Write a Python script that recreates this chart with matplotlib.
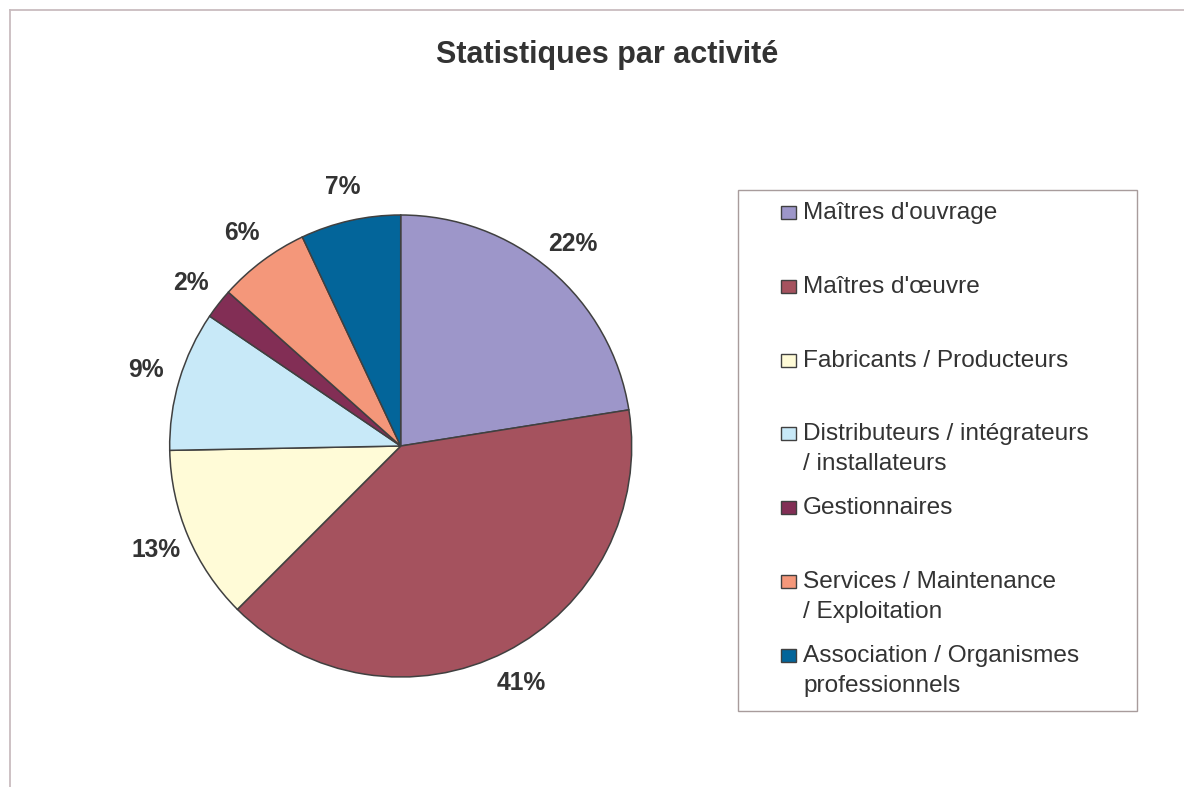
import numpy as np
import matplotlib
matplotlib.use("Agg")
import matplotlib.pyplot as plt
from matplotlib.patches import Rectangle
from matplotlib.lines import Line2D

plt.rcParams["font.family"] = ["Liberation Sans", "DejaVu Sans"]

categories = [
    "Maîtres d'ouvrage",
    "Maîtres d'œuvre",
    "Fabricants / Producteurs",
    "Distributeurs / intégrateurs\n/ installateurs",
    "Gestionnaires",
    "Services / Maintenance\n/ Exploitation",
    "Association / Organismes\nprofessionnels",
]
# wedge sizes as drawn, and the percentage labels as printed on the chart
shares = [22.5, 40.0, 12.2, 9.8, 2.1, 6.4, 7.0]
pct_labels = ["22%", "41%", "13%", "9%", "2%", "6%", "7%"]
colors = ["#9D96C9", "#A5525E", "#FFFBD7", "#C8E9F8", "#822E55", "#F4977A", "#03659A"]

W, H = 1184, 787
fig = plt.figure(figsize=(W / 100, H / 100), dpi=100)
fig.patch.set_facecolor("white")

# outer chart frame (only top and left edges visible)
border = "#C9BCBF"
fig.add_artist(Line2D([10 / W, 1.0], [1 - 10 / H] * 2, color=border, lw=1.3))
fig.add_artist(Line2D([10 / W] * 2, [0.0, 1 - 10 / H], color=border, lw=1.3))

fig.text(607 / W, 1 - 63 / H, "Statistiques par activité", ha="center", va="baseline",
         fontsize=22, fontweight="bold", color="#333333")

# pie
cx, cy, r = 400.7, 446, 231
ax = fig.add_axes([(cx - r) / W, 1 - (cy + r) / H, 2 * r / W, 2 * r / H])
wedges, _ = ax.pie(
    shares, colors=colors, startangle=90, counterclock=False,
    wedgeprops=dict(edgecolor="#404040", linewidth=1.1),
)
for w, lab in zip(wedges, pct_labels):
    mid = np.deg2rad((w.theta1 + w.theta2) / 2)
    d = 1.15
    ax.text(d * np.cos(mid), d * np.sin(mid), lab, ha="center", va="center",
            fontsize=17.7, fontweight="bold", color="#333333")
ax.set_xlim(-1, 1)
ax.set_ylim(-1, 1)
ax.set_aspect("equal")
ax.axis("off")

# legend box
lx0, ly0, lx1, ly1 = 738, 190, 1137, 711
fig.add_artist(Rectangle((lx0 / W, 1 - ly1 / H), (lx1 - lx0) / W, (ly1 - ly0) / H,
                         transform=fig.transFigure, facecolor="white",
                         edgecolor="#A89C9C", lw=1.0))
for i, (lab, col) in enumerate(zip(categories, colors)):
    base = 219 + i * 73.8
    fig.add_artist(Rectangle((781 / W, 1 - base / H), 15 / W, 13 / H,
                             transform=fig.transFigure, facecolor=col,
                             edgecolor="#404040", lw=1.0))
    for j, line in enumerate(lab.split("\n")):
        fig.text(803 / W, 1 - (base + 30 * j) / H, line, ha="left", va="baseline",
                 fontsize=17.6, color="#333333")

fig.savefig("out.png", dpi=100)
